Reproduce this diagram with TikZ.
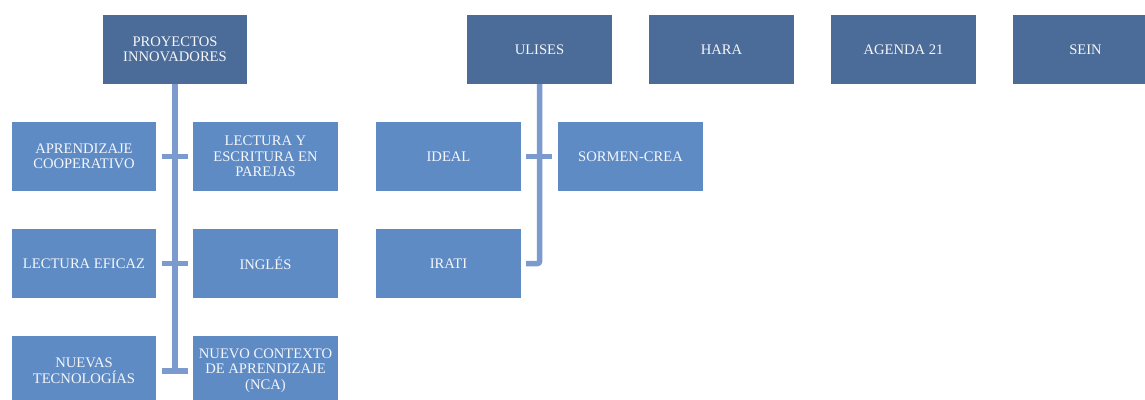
\documentclass[tikz,border=0pt]{standalone}
\usepackage{fontspec}
\setmainfont{Liberation Serif}
\definecolor{darkbox}{HTML}{4B6C98}
\definecolor{lightbox}{HTML}{5F8BC5}
\definecolor{linec}{HTML}{7B9BCF}
\definecolor{txt}{HTML}{F4F6FA}
\tikzset{
  box/.style={minimum width=145pt, minimum height=69pt, inner sep=0pt, outer sep=0pt,
    align=center, text=txt, font=\fontsize{14.6}{15.5}\selectfont},
  topbox/.style={box, fill=darkbox},
  subbox/.style={box, fill=lightbox},
  conn/.style={draw=linec, line width=5.5pt},
}
\begin{document}
\begin{tikzpicture}[x=1pt,y=-1pt]
\useasboundingbox (0,0) rectangle (1145,399);
\clip (0,0) rectangle (1145,399);
% top level
\node[topbox, minimum width=144pt] (proy) at (175,49.5) {PROYECTOS\\INNOVADORES};
\node[topbox] (ulises) at (539.5,49.5) {ULISES};
\node[topbox] (hara) at (721.5,49.5) {HARA};
\node[topbox] (agenda) at (903.5,49.5) {AGENDA 21};
\node[topbox] (sein) at (1085.5,49.5) {SEIN};
% children of PROYECTOS
\node[subbox, minimum width=144pt] (apc) at (84,156.5) {APRENDIZAJE\\COOPERATIVO};
\node[subbox] (lee) at (265.5,156.5) {LECTURA Y\\ESCRITURA EN\\PAREJAS};
\node[subbox, minimum width=144pt] (lef) at (84,263.5) {LECTURA EFICAZ};
\node[subbox] (ing) at (265.5,263.5) {INGLÉS};
\node[subbox, minimum width=144pt] (nue) at (84,370.5) {NUEVAS\\TECNOLOGÍAS};
\node[subbox] (nca) at (265.5,370.5) {NUEVO CONTEXTO\\DE APRENDIZAJE\\(NCA)};
% children of ULISES
\node[subbox] (ideal) at (448.5,156.5) {IDEAL};
\node[subbox] (sor) at (630.5,156.5) {SORMEN-CREA};
\node[subbox] (irati) at (448.5,263.5) {IRATI};
% connectors PROYECTOS
\draw[conn] (proy.south) -- (proy.south |- nue.east);
\draw[conn, shorten <=6pt, shorten >=5pt] (apc.east) -- (lee.west);
\draw[conn, shorten <=6pt, shorten >=5pt] (lef.east) -- (ing.west);
\draw[conn, shorten <=6pt, shorten >=5pt] ([yshift=-0.5pt]nue.east) -- ([yshift=-0.5pt]nca.west);
% connectors ULISES
\draw[conn, shorten <=5pt, shorten >=6pt] (ideal.east) -- (sor.west);
\draw[conn, rounded corners=2pt, shorten >=5pt] (ulises.south) |- (irati.east);
\end{tikzpicture}
\end{document}
